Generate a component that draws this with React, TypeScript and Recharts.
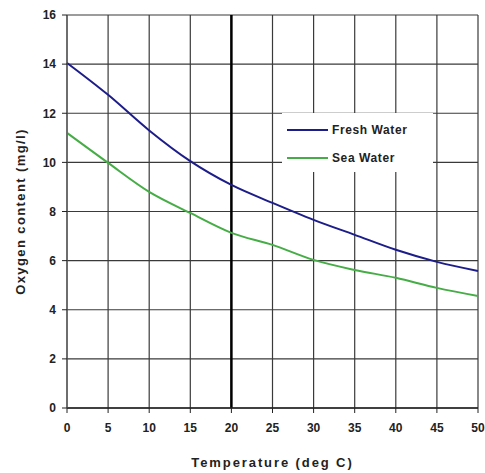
import React from 'react';
import {
  LineChart,
  Line,
  XAxis,
  YAxis,
  CartesianGrid,
  ReferenceLine,
} from 'recharts';

const temperatures = [0, 5, 10, 15, 20, 25, 30, 35, 40, 45, 50];
const freshWater = [14.05, 12.75, 11.3, 10.05, 9.08, 8.35, 7.66, 7.05, 6.44, 5.95, 5.58];
const seaWater = [11.2, 9.98, 8.8, 7.94, 7.13, 6.64, 6.03, 5.62, 5.3, 4.89, 4.56];
const xTicks = [0, 5, 10, 15, 20, 25, 30, 35, 40, 45, 50];
const yTicks = [0, 2, 4, 6, 8, 10, 12, 14, 16];

const data = temperatures.map((t, i) => ({
  temp: t,
  fresh: freshWater[i],
  sea: seaWater[i],
}));

const FONT = '"Liberation Sans", Arial, sans-serif';
const BLUE = '#1d1d8a';
const GREEN = '#46ad46';

const legendItems = [
  { name: 'Fresh Water', color: BLUE },
  { name: 'Sea Water', color: GREEN },
];

// white box sits over the grid, like the original
function LegendBox() {
  return (
    <div style={{ position: 'absolute', left: 282, top: 113, width: 151, height: 59, background: '#ffffff', paddingTop: 3, boxSizing: 'border-box' }}>
      {legendItems.map((it) => (
        <div key={it.name} style={{ display: 'flex', alignItems: 'center', height: 28, paddingLeft: 5 }}>
          <div style={{ width: 41, height: 2, background: it.color, marginRight: 4 }} />
          <span style={{ fontFamily: FONT, fontWeight: 'bold', fontSize: 12, color: '#222', letterSpacing: 0.6 }}>
            {it.name}
          </span>
        </div>
      ))}
    </div>
  );
}

export default function App() {
  return (
    <div style={{ position: 'absolute', left: 0, top: 0, width: 485, height: 473, background: '#fff' }}>
      <LineChart width={485} height={473} data={data} margin={{ top: 15, right: 7, bottom: 6, left: 0 }}>
        <CartesianGrid stroke="#3a3a3a" strokeWidth={1.2} />
        <XAxis
          dataKey="temp"
          type="number"
          domain={[0, 50]}
          ticks={xTicks}
          height={59}
          tick={{ fontSize: 12, fontWeight: 'bold', fill: '#222', fontFamily: FONT }}
          tickLine={{ stroke: '#222' }}
          tickSize={5}
          tickMargin={10}
          axisLine={{ stroke: '#222', strokeWidth: 1.5 }}
          label={{ value: 'Temperature (deg C)', position: 'insideBottom', offset: 0, fontSize: 13, fontWeight: 'bold', fill: '#222', fontFamily: FONT, letterSpacing: 1.9 }}
        />
        <YAxis
          type="number"
          domain={[0, 16]}
          ticks={yTicks}
          width={67}
          tick={{ fontSize: 12, fontWeight: 'bold', fill: '#222', fontFamily: FONT }}
          tickLine={{ stroke: '#222' }}
          tickSize={5}
          tickMargin={6}
          axisLine={{ stroke: '#555' }}
          label={{ value: 'Oxygen content (mg/l)', angle: -90, position: 'insideLeft', offset: 20, fontSize: 13, fontWeight: 'bold', fill: '#222', fontFamily: FONT, letterSpacing: 1.4, style: { textAnchor: 'middle' } }}
        />
        <ReferenceLine x={20} stroke="#000" strokeWidth={2.5} />
        <Line type="monotone" dataKey="fresh" stroke={BLUE} strokeWidth={2} dot={false} isAnimationActive={false} />
        <Line type="monotone" dataKey="sea" stroke={GREEN} strokeWidth={2} dot={false} isAnimationActive={false} />
      </LineChart>
      <LegendBox />
    </div>
  );
}
